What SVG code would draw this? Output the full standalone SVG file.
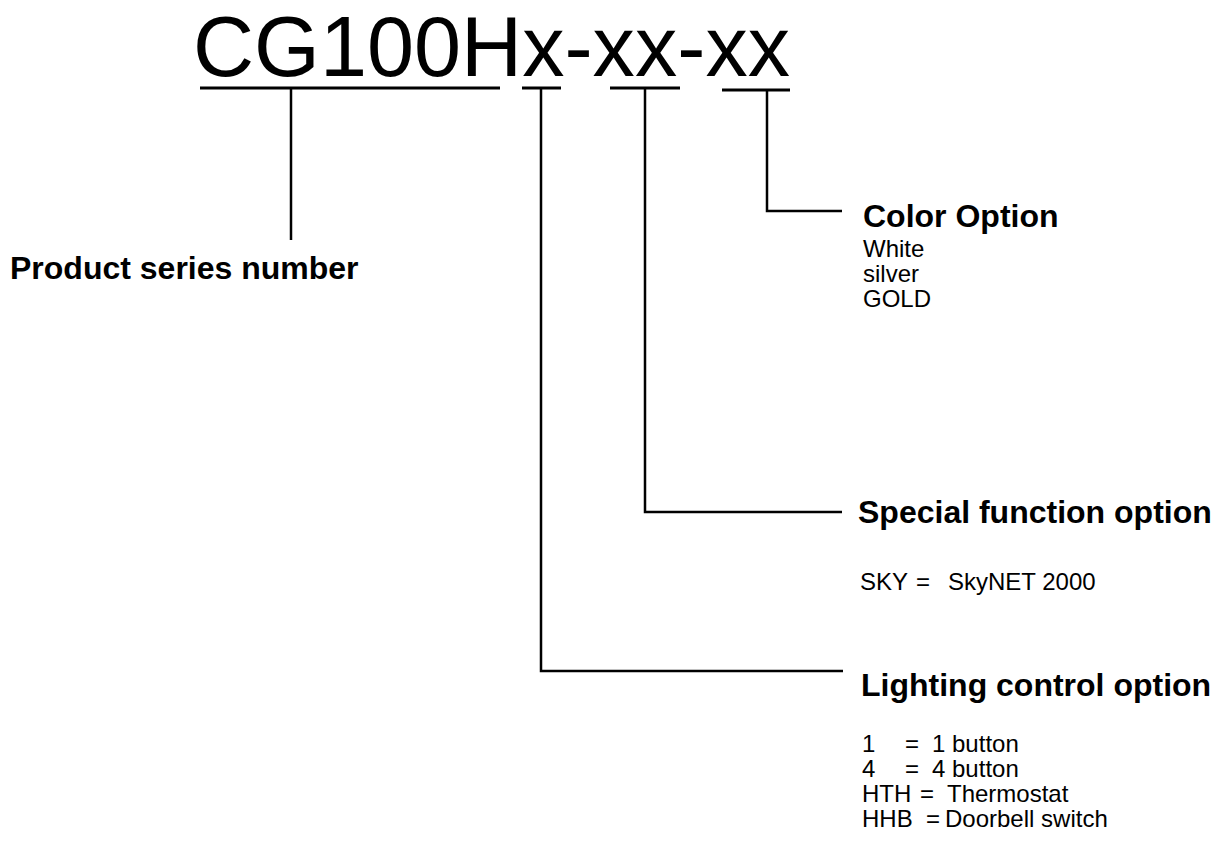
<svg xmlns="http://www.w3.org/2000/svg" width="1230" height="845" viewBox="0 0 1230 845">
<style>
.t{font-family:"Liberation Sans",Arial,sans-serif;fill:#000}
.h{font-family:"Liberation Sans",Arial,sans-serif;font-weight:bold;font-size:32px;fill:#000}
.r{font-family:"Liberation Sans",Arial,sans-serif;font-size:24px;fill:#000}
.ln{stroke:#000;stroke-width:2.5;fill:none}
.ul{stroke:#000;stroke-width:3;fill:none}
</style>
<rect width="1230" height="845" fill="#fff"/>
<g id="title">
<text class="t" x="193" y="76" font-size="86" textLength="597" lengthAdjust="spacingAndGlyphs">CG100Hx-xx-xx</text>
</g>
<g id="connectors">
<line class="ul" x1="200" y1="88" x2="500" y2="88"/>
<line class="ul" x1="522" y1="88" x2="561" y2="88"/>
<line class="ul" x1="610" y1="88" x2="680" y2="88"/>
<line class="ul" x1="722" y1="90" x2="790" y2="90"/>
<polyline class="ln" points="291,88 291,240"/>
<polyline class="ln" points="767,90 767,211 842,211"/>
<polyline class="ln" points="645,88 645,512 842,512"/>
<polyline class="ln" points="541,88 541,671 843,671"/>
</g>
<g id="product">
<text class="h" x="10" y="279">Product series number</text>
</g>
<g id="color">
<text class="h" x="863" y="227">Color Option</text>
<text class="r" x="863" y="257">White</text>
<text class="r" x="863" y="282">silver</text>
<text class="r" x="863" y="307">GOLD</text>
</g>
<g id="special">
<text class="h" x="858" y="523">Special function option</text>
<text class="r" x="860" y="590">SKY</text>
<text class="r" x="916" y="590">=</text>
<text class="r" x="948" y="590">SkyNET 2000</text>
</g>
<g id="lighting">
<text class="h" x="861" y="696">Lighting control option</text>
<text class="r" x="862" y="752">1</text>
<text class="r" x="905" y="752">=</text>
<text class="r" x="932" y="752">1 button</text>
<text class="r" x="862" y="777">4</text>
<text class="r" x="905" y="777">=</text>
<text class="r" x="932" y="777">4 button</text>
<text class="r" x="862" y="802">HTH</text>
<text class="r" x="920" y="802">=</text>
<text class="r" x="947" y="802">Thermostat</text>
<text class="r" x="862" y="827">HHB</text>
<text class="r" x="926" y="827">=</text>
<text class="r" x="945" y="827">Doorbell switch</text>
</g>
</svg>
